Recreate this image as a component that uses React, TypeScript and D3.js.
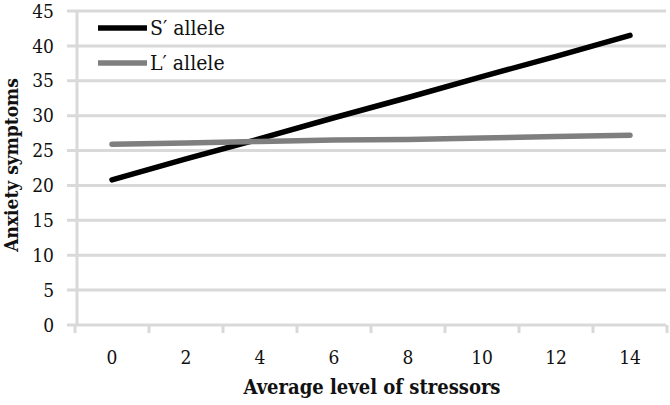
import React from "react";
import * as d3 from "d3";

const categories = ["0", "2", "4", "6", "8", "10", "12", "14"];
const sAllele = [20.8, 23.8, 26.7, 29.7, 32.6, 35.6, 38.5, 41.5];
const lAllele = [25.9, 26.1, 26.3, 26.5, 26.6, 26.8, 27.0, 27.2];
const yTicks = [0, 5, 10, 15, 20, 25, 30, 35, 40, 45];
const seriesNames = ["S\u2032 allele", "L\u2032 allele"];

export default function App() {
  const W = 670, H = 405;
  const left = 75, right = 667, top = 11, bottom = 325;
  const x = d3.scaleBand().domain(categories).range([left, right]);
  const y = d3.scaleLinear().domain([0, 45]).range([bottom, top]);
  const cx = (c: string) => (x(c) as number) + x.bandwidth() / 2;
  const line = d3.line<number>().x((_, i) => cx(categories[i])).y((d) => y(d));
  const font = "'DejaVu Serif Condensed', 'DejaVu Serif', serif";
  const grid = "#d9d9d9";
  const ink = "#111";
  const series = [
    { name: seriesNames[0], data: sAllele, color: "#000000" },
    { name: seriesNames[1], data: lAllele, color: "#7f7f7f" },
  ];
  return (
    <svg width={W} height={H} style={{ position: "absolute", left: 0, top: 0, background: "#fff" }}>
      {yTicks.map((t) => (
        <g key={t}>
          <line x1={67} x2={666} y1={y(t)} y2={y(t)} stroke={grid} strokeWidth={3} />
          <text x={54} y={y(t)} dy="0.35em" textAnchor="end" fontFamily={font} fontStretch="condensed" fontSize={19} fill={ink}>
            {t}
          </text>
        </g>
      ))}
      <line x1={77} x2={77} y1={top} y2={bottom} stroke={grid} strokeWidth={3} />
      {d3.range(categories.length + 1).map((i) => {
        const xx = left + i * x.step();
        return <line key={i} x1={xx} x2={xx} y1={bottom} y2={bottom + 8} stroke={grid} strokeWidth={3} />;
      })}
      {categories.map((c) => (
        <text key={c} x={cx(c)} y={357} dy="0.35em" textAnchor="middle" fontFamily={font} fontStretch="condensed" fontSize={19} fill={ink}>
          {c}
        </text>
      ))}
      {series.map((s) => (
        <path key={s.name} d={line(s.data) as string} fill="none" stroke={s.color} strokeWidth={5.5} strokeLinecap="round" />
      ))}
      {series.map((s, i) => (
        <g key={s.name}>
          <line x1={98} x2={147} y1={28 + i * 35} y2={28 + i * 35} stroke={s.color} strokeWidth={5.5} />
          <text x={150} y={28 + i * 35} dy="0.35em" fontFamily={font} fontStretch="condensed" fontSize={21} fill={ink}>
            {s.name}
          </text>
        </g>
      ))}
      <text x={372} y={387} dy="0.35em" textAnchor="middle" fontFamily={font} fontStretch="condensed" fontSize={20} fontWeight="bold" fill={ink}>
        Average level of stressors
      </text>
      <text
        transform={`translate(11,165) rotate(-90)`}
        dy="0.35em"
        textAnchor="middle"
        fontFamily={font}
        fontStretch="condensed"
        fontSize={19}
        fontWeight="bold"
        fill={ink}
      >
        Anxiety symptoms
      </text>
    </svg>
  );
}
